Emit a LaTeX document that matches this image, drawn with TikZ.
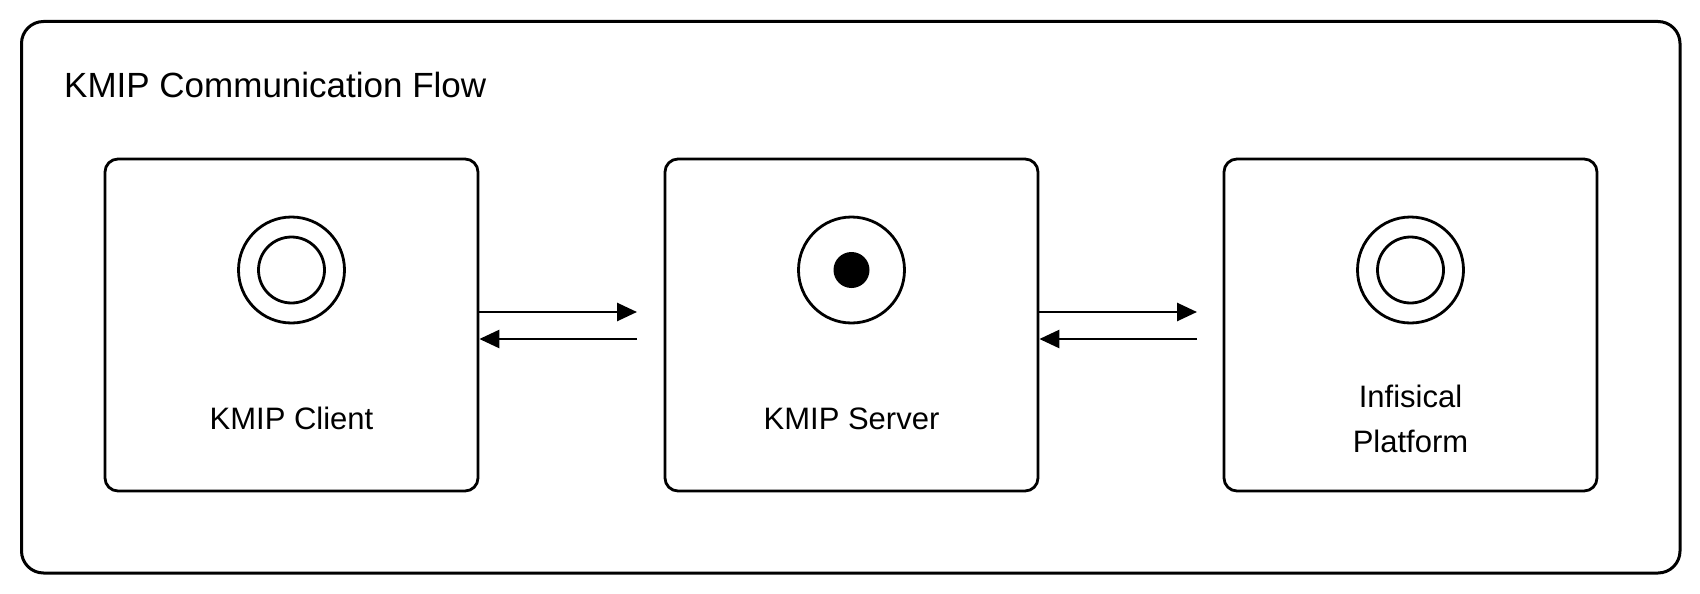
\documentclass[tikz,border=0pt]{standalone}
\usepackage{fontspec}
\setmainfont{Liberation Sans}
\usetikzlibrary{arrows.meta}
\begin{document}
\begin{tikzpicture}[x=1pt,y=-1pt,
  frame/.style={draw=black, line width=3pt, rounded corners=22pt},
  box/.style={draw=black, line width=2.8pt, rounded corners=13pt, minimum width=373pt, minimum height=332pt, inner sep=0pt},
  ring/.style={draw=black, circle, line width=2.8pt, inner sep=0pt},
  dot/.style={fill=black, circle, inner sep=0pt, minimum size=36pt},
  lbl/.style={font=\fontsize{31}{45}\selectfont, inner sep=0pt, align=center},
  flow/.style={line width=2.7pt, -{Triangle[length=20pt,width=18pt]}}
]
\useasboundingbox (0,0) rectangle (1700,594);
\draw[frame] (21.5,21.5) rectangle (1680,573);
\node[anchor=base west, font=\fontsize{35}{42}\selectfont, inner sep=0pt] (title) at (64,97.5) {KMIP Communication Flow};

\node[box] (b1) at (291.5,325) {};
\node[box] (b2) at (851.5,325) {};
\node[box] (b3) at (1410.5,325) {};

\node[ring, minimum size=106pt] (o1) at (291.5,270) {};
\node[ring, minimum size=66pt] (i1) at (291.5,270) {};
\node[ring, minimum size=106pt] (o2) at (851.5,270) {};
\node[dot] (d2) at (851.5,270) {};
\node[ring, minimum size=106pt] (o3) at (1410.5,270) {};
\node[ring, minimum size=66pt] (i3) at (1410.5,270) {};

\node[lbl, anchor=base] (l1) at (291.5,429) {KMIP Client};
\node[lbl, anchor=base] (l2) at (851.5,429) {KMIP Server};
\node[lbl] (l3) at (1410.5,419) {Infisical\\Platform};

\coordinate (r1) at (637,312);
\coordinate (q1) at (637,339);
\coordinate (r2) at (1197,312);
\coordinate (q2) at (1197,339);
\draw[flow] (b1.east |- r1) -- (r1);
\draw[flow] (q1) -- (b1.east |- q1);
\draw[flow] (b2.east |- r2) -- (r2);
\draw[flow] (q2) -- (b2.east |- q2);
\end{tikzpicture}
\end{document}
